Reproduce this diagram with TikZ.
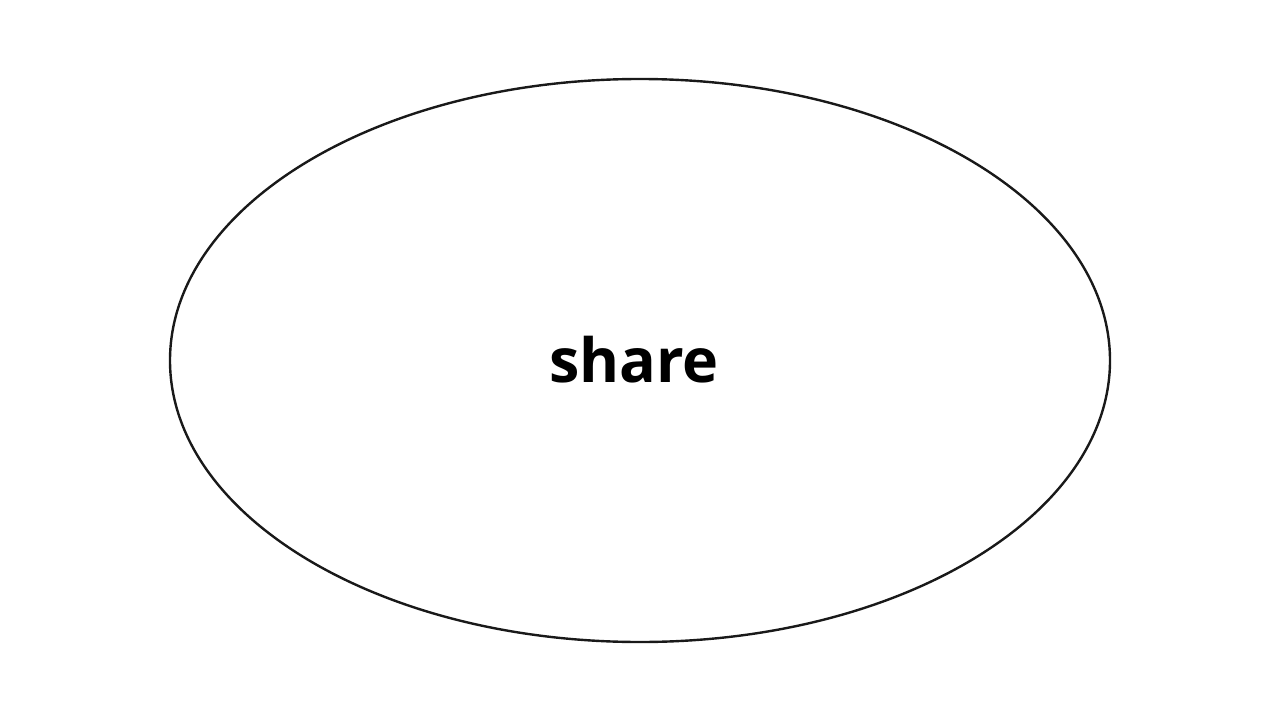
\documentclass[tikz,border=0pt]{standalone}
\usepackage{fontspec}
\setmainfont{Open Sans}
\begin{document}
\begin{tikzpicture}[x=1pt,y=-1pt,
  shapeline/.style={draw=black!90, line width=2.4pt},
  label/.style={font=\fontsize{61}{70}\selectfont\bfseries, text=black}]
\useasboundingbox (0,0) rectangle (1280,720);
\draw[shapeline] (640,360.5) ellipse [x radius=470, y radius=281.5];
\node[label] (t) at (634,360) {share};
\end{tikzpicture}
\end{document}
